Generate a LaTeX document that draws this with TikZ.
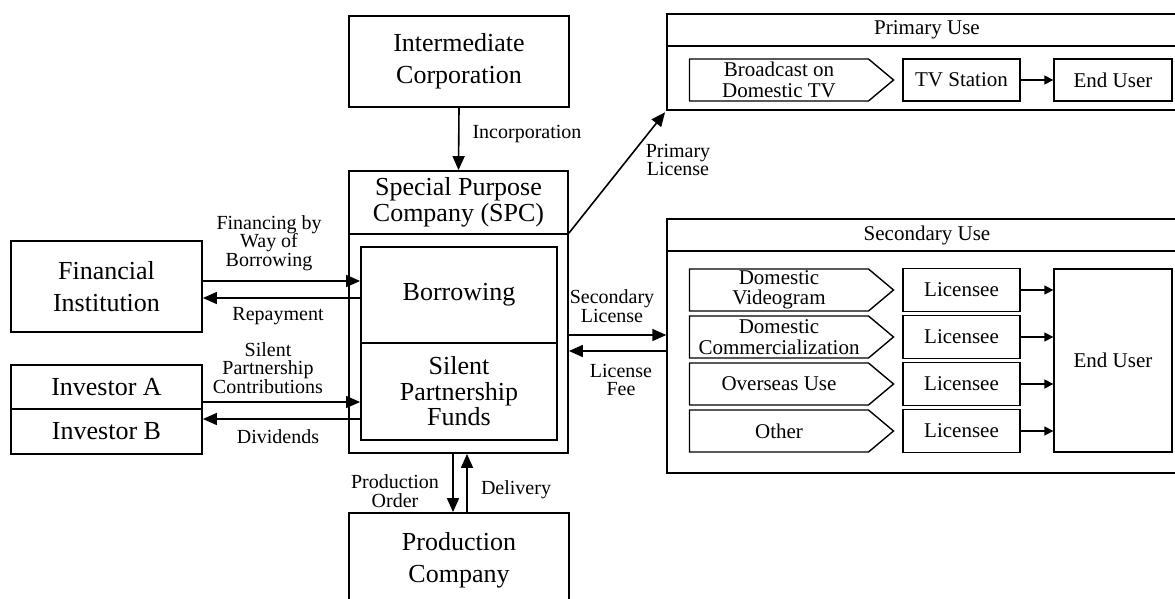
\documentclass[tikz,border=0pt]{standalone}
\usepackage{fontspec}
\setmainfont{Liberation Serif}
\usetikzlibrary{arrows.meta,positioning,shapes.symbols}
\newcommand{\bigfont}{\fontsize{26}{32}\selectfont}
\newcommand{\spcfont}{\fontsize{26}{25.5}\selectfont}
\newcommand{\midfont}{\fontsize{21}{20.5}\selectfont}
\newcommand{\lblfont}{\fontsize{20}{18.5}\selectfont}
\tikzset{
  party/.style={draw, line width=1.8pt, align=center, font=\bigfont, inner sep=0pt},
  fund/.style={draw, line width=1.8pt, align=center, font=\spcfont, inner sep=0pt},
  usebox/.style={draw, line width=1.4pt, align=center, font=\midfont, inner sep=0pt},
  channel/.style={draw, signal, signal to=east, signal pointer angle=80, line width=1.4pt, align=center, font=\midfont, inner sep=0pt, minimum width=204pt, minimum height=42pt},
  lbl/.style={align=center, font=\lblfont, inner sep=0pt},
  flow/.style={-{Triangle[length=14pt,width=12pt]}, line width=1.6pt},
  subflow/.style={-{Triangle[length=9pt,width=9pt]}, line width=1.6pt}
}

\begin{document}
\begin{tikzpicture}[x=1pt,y=-1pt]
  \useasboundingbox (0,0) rectangle (1175,599);
  \clip (0,0) rectangle (1175,599);

  % parties round the SPC
  \node[party, minimum width=220, minimum height=91] (inter) at (459,61.5) {Intermediate\\Corporation};
  \node[party, minimum width=191, minimum height=91] (fin) at (106.5,286.5) {Financial\\Institution};
  \node[party, minimum width=191, minimum height=44] (inva) at (106.5,387) {Investor A};
  \node[party, minimum width=191, minimum height=45] (invb) at (106.5,431.5) {Investor B};
  \node[party, minimum width=220, minimum height=94] (prod) at (459,560) {Production\\Company};

  % SPC
  \node[fund, minimum width=219, minimum height=63] (spchead) at (458.5,202.5) {Special Purpose\\Company (SPC)};
  \node[fund, minimum width=219, minimum height=219] (spcbody) at (458.5,343.5) {};
  \node[fund, minimum width=196, minimum height=96] (borrow) at (459,295) {Borrowing};
  \node[fund, minimum width=196, minimum height=97] (funds) at (459,391.5) {Silent\\Partnership\\Funds};

  % primary use
  \node[usebox, minimum width=520, minimum height=32] (primhead) at (927,30) {Primary Use};
  \node[usebox, minimum width=520, minimum height=64] (prim) at (927,78) {};
  \node[channel] (bcast) at (779,80) {Broadcast on\\Domestic TV};
  \node[usebox, minimum width=117, minimum height=42] (tvst) at (961.5,80) {TV Station};
  \node[usebox, minimum width=118, minimum height=42] (user1) at (1113,80) {End User};

  % secondary use
  \node[usebox, minimum width=520, minimum height=32] (sechead) at (927,235) {Secondary Use};
  \node[usebox, minimum width=520, minimum height=222] (sec) at (927,362) {};
  \node[channel] (video) at (779,290) {Domestic\\Videogram};
  \node[channel] (comm) at (779,337) {Domestic\\Commercialization};
  \node[channel] (overseas) at (779,384) {Overseas Use};
  \node[channel] (other) at (779,431) {Other};
  \node[usebox, minimum width=117, minimum height=43] (lic1) at (961.5,290) {Licensee};
  \node[usebox, minimum width=117, minimum height=43] (lic2) at (961.5,337) {Licensee};
  \node[usebox, minimum width=117, minimum height=43] (lic3) at (961.5,384) {Licensee};
  \node[usebox, minimum width=117, minimum height=43] (lic4) at (961.5,431) {Licensee};
  \node[usebox, minimum width=118, minimum height=183] (user2) at (1113,360.5) {End User};

  % flows
  \draw[flow] (inter.south) -- (spchead.north);
  \node[lbl] (incorp) at (527,134) {Incorporation};

  \draw[flow] ([yshift=5.5pt]fin.east) -- ([yshift=5.5pt]fin.east -| borrow.west);
  \draw[flow] ([yshift=-11.5pt]fin.east -| borrow.west) -- ([yshift=-11.5pt]fin.east);
  \node[lbl] (finlbl) at (269,243) {Financing by\\Way of\\Borrowing};
  \node[lbl] (replbl) at (278,316) {Repayment};

  \draw[flow] ([yshift=-15pt]inva.east) -- ([yshift=-15pt]inva.east -| funds.west);
  \draw[flow] ([yshift=12.5pt]invb.east -| funds.west) -- ([yshift=12.5pt]invb.east);
  \node[lbl] (contlbl) at (268,368) {Silent\\Partnership\\Contributions};
  \node[lbl] (divlbl) at (278,437) {Dividends};

  \draw[flow] ([xshift=-5.5pt]spcbody.south) -- ([xshift=-5.5pt]spcbody.south |- prod.north);
  \draw[flow] ([xshift=8.5pt]spcbody.south |- prod.north) -- ([xshift=8.5pt]spcbody.south);
  \node[lbl] (orderlbl) at (395,491) {Production\\Order};
  \node[lbl] (delivlbl) at (516,490) {Delivery};

  \draw[flow, shorten >=2pt] (spcbody.north east) -- (prim.south west);
  \node[lbl] (primlbl) at (678,160) {Primary\\License};

  \draw[flow] ([yshift=8.5pt]spcbody.east) -- ([yshift=8.5pt]spcbody.east -| sec.west);
  \draw[flow] ([yshift=-7.5pt]spcbody.east -| sec.west) -- ([yshift=-7.5pt]spcbody.east);
  \node[lbl] (seclbl) at (612,306) {Secondary\\License};
  \node[lbl] (feelbl) at (621,380) {License\\Fee};

  \draw[subflow] (tvst.east) -- (user1.west);
  \draw[subflow] (lic1.east) -- (lic1.east -| user2.west);
  \draw[subflow] (lic2.east) -- (lic2.east -| user2.west);
  \draw[subflow] (lic3.east) -- (lic3.east -| user2.west);
  \draw[subflow] (lic4.east) -- (lic4.east -| user2.west);
\end{tikzpicture}
\end{document}
